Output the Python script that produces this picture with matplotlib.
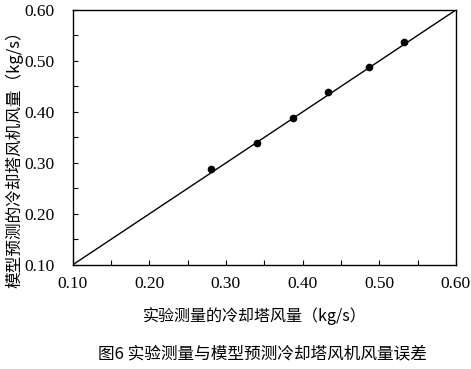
import matplotlib
matplotlib.use("Agg")
import matplotlib.pyplot as plt
from matplotlib.ticker import MultipleLocator, FormatStrFormatter

plt.rcParams["font.family"] = ["Liberation Serif", "Noto Sans CJK SC", "DejaVu Sans"]
cjk = ["Noto Sans CJK SC", "DejaVu Sans"]

# 实验测量 vs 模型预测 (kg/s)
measured = [0.281, 0.340, 0.387, 0.433, 0.487, 0.532]
predicted = [0.288, 0.339, 0.388, 0.439, 0.488, 0.538]
line_ends = [0.10, 0.60]

fig = plt.figure(figsize=(4.71, 3.69), dpi=100)
ax = fig.add_axes([0.154, 0.282, 0.814, 0.691])

ax.plot(line_ends, line_ends, color="black", lw=1.0)
ax.plot(measured, predicted, "o", color="black", ms=4.5)

ax.set_xlim(0.1, 0.6)
ax.set_ylim(0.1, 0.6)
for a in (ax.xaxis, ax.yaxis):
    a.set_major_locator(MultipleLocator(0.1))
    a.set_minor_locator(MultipleLocator(0.05))
    a.set_major_formatter(FormatStrFormatter("%.2f"))
ax.tick_params(which="both", direction="in", top=False, right=False,
               length=3.5, width=0.8, labelsize=12.5)
ax.tick_params(axis="x", pad=8)
ax.tick_params(axis="y", pad=13)
for s in ax.spines.values():
    s.set_linewidth(1.0)

ax.set_xlabel("实验测量的冷却塔风量（kg/s）", fontsize=11.5, family=cjk,
              va="center")
ax.xaxis.set_label_coords(0.475, -0.2)
ax.set_ylabel("模型预测的冷却塔风机风量（kg/s）", fontsize=12, family=cjk,
              va="center")
ax.yaxis.set_label_coords(-0.153, 0.43)

fig.text(0.558, 0.04, "图6 实验测量与模型预测冷却塔风机风量误差", ha="center",
         va="center", fontsize=12, family=cjk)

fig.savefig("out.png", dpi=100)
